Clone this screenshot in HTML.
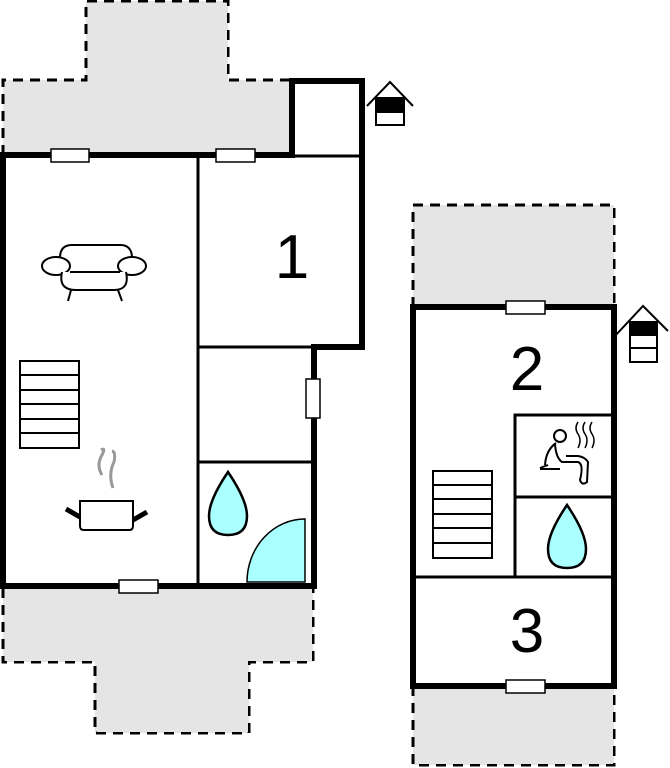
<!DOCTYPE html>
<html><head><style>body{margin:0;background:#fff}svg{display:block}</style></head><body>
<svg width="670" height="768" viewBox="0 0 670 768" xmlns="http://www.w3.org/2000/svg" font-family="Liberation Sans, sans-serif">
<g fill="#e5e5e5" stroke="#000" stroke-width="3" stroke-dasharray="10,7">
<path d="M3 155 V80 H86 V1 H228 V80 H292"/>
<path d="M3 588 V662 H95 V733 H249 V662 H313 V588"/>
<path d="M413 307 V205 H614 V307"/>
<path d="M413 686 V765 H614 V686"/>
</g>
<g fill="#e5e5e5"><rect x="5" y="82" width="287" height="72"/><rect x="88" y="3" width="139" height="80"/>
<rect x="5" y="589" width="307" height="72"/><rect x="97" y="660" width="151" height="72"/>
<rect x="415" y="207" width="198" height="99"/><rect x="415" y="688" width="198" height="76"/></g>
<rect x="4" y="156" width="194" height="429" fill="#fff"/>
<g fill="none" stroke="#000">
<path d="M3 586 V155 H292 V81 H362 V347 H314 V586 Z" fill="#fff" stroke-width="6"/>
<path d="M198 157 V585 M292 156 H361 M198 347 H314 M198 462 H312" stroke-width="3"/>
<rect x="413" y="307" width="201" height="379" fill="#fff" stroke-width="6"/>
<path d="M413 577 H614 M515 577 V415 H614 M515 497 H614" stroke-width="3"/>
</g>
<g fill="#fff" stroke="#000" stroke-width="1.5">
<rect x="51" y="149" width="38" height="13"/><rect x="216" y="149" width="39" height="13"/>
<rect x="306" y="379" width="14" height="39"/><rect x="119" y="580" width="39" height="13"/>
<rect x="506" y="301" width="39" height="13"/><rect x="506" y="680" width="39" height="13"/>
</g>
<g font-size="62" text-anchor="middle"><text x="292" y="278">1</text><text x="527" y="390">2</text><text x="527" y="652">3</text></g>
<g fill="#fff" stroke="#000" stroke-width="2">
<rect x="20" y="361" width="59" height="87"/><path d="M20 375 H79 M20 390 H79 M20 404 H79 M20 419 H79 M20 433 H79"/>
<rect x="433" y="471" width="59" height="87"/><path d="M433 485 H492 M433 499 H492 M433 514 H492 M433 528 H492 M433 543 H492"/>
<path d="M60 258 Q60 245 72 245 H120 Q132 245 132 258"/>
<ellipse cx="56" cy="266" rx="14" ry="9"/><ellipse cx="132" cy="266" rx="14" ry="9"/>
<path d="M62 272 Q58 290 76 290 H114 Q130 290 126 272 M70 272 H120 M71 290 L68 301 M118 290 L122 301"/>
<path d="M80 501 H133 V526 Q133 530 129 530 H84 Q80 530 80 526 Z"/>
<path d="M66 509 L80 517 M147 512 L133 520" stroke-width="5"/>
</g>
<path d="M102 475 Q96 465 102 455 Q106 447 101 450 M113 488 Q108 474 114 462 Q116 452 112 451" fill="none" stroke="#999" stroke-width="3"/>
<g fill="#aff" stroke="#000" stroke-width="2.5">
<path d="M228 472 Q247 500 247 516 Q247 535 228 535 Q209 535 209 516 Q209 500 228 472 Z"/>
<path d="M567 505 Q586 533 586 549 Q586 568 567 568 Q548 568 548 549 Q548 533 567 505 Z"/>
<path d="M305 519 V582 H247 A58 63 0 0 1 305 519 Z" stroke-width="1.5"/>
</g>
<g fill="none" stroke="#000" stroke-width="2">
<circle cx="560" cy="436" r="6"/>
<path d="M556 443 Q546 450 545 465 M548 465 L540 468 M555 444 Q556 458 562 462 H578 Q584 464 580 480 Q582 486 587 482 L588 462 Q585 457 578 456 H566 M540 469 H560"/>
<path d="M578 422 Q574 428 578 434 Q582 440 578 448 M585 422 Q581 428 585 434 Q589 440 585 448 M592 422 Q588 428 592 434 Q596 440 592 448" stroke-width="1.5"/>
<path d="M367 106 L390 82 L413 106"/>
<rect x="376" y="98" width="28" height="27" fill="#fff"/>
<path d="M614 337 L643 306 L668 331"/>
<rect x="630" y="322" width="27" height="40" fill="#fff"/>
<path d="M630 335 H657 M630 348 H657"/>
<path d="M376 112 H404"/>
</g>
<rect x="376" y="98" width="28" height="14" fill="#000"/>
<rect x="630" y="322" width="27" height="13" fill="#000"/>
</svg>
</body></html>
